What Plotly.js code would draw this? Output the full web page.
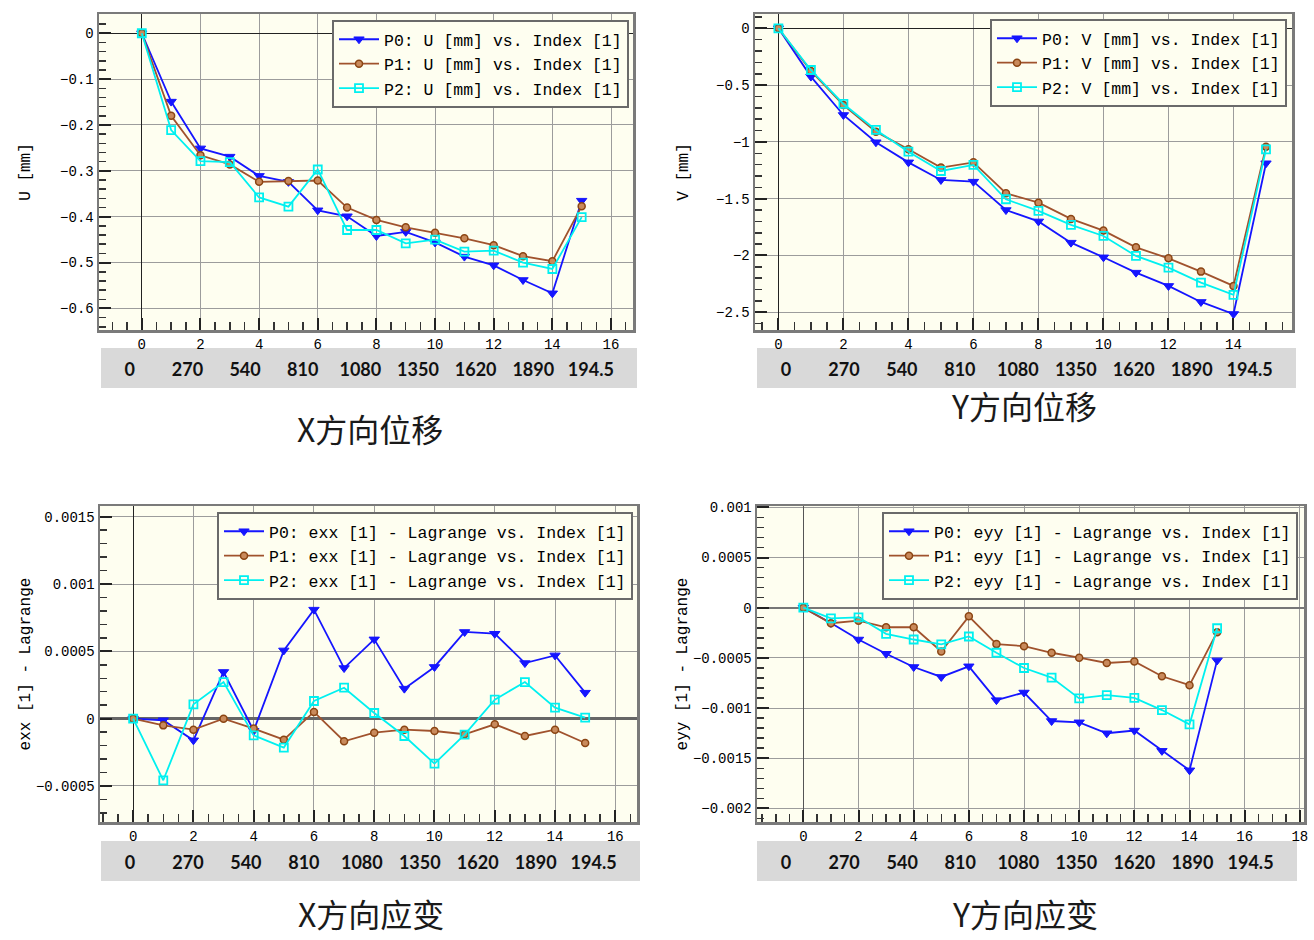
<!DOCTYPE html>
<html>
<head>
<meta charset="utf-8">
<script src="https://cdn.plot.ly/plotly-3.0.1.min.js"></script>
<style>
  html, body { margin: 0; padding: 0; background: #ffffff; }
  #chart { width: 1314px; height: 940px; }
</style>
</head>
<body>
<div id="chart"></div>
<script>
// ---------------- data ----------------
const idx = [0, 1, 2, 3, 4, 5, 6, 7, 8, 9, 10, 11, 12, 13, 14, 15];
const pointNames = ['P0', 'P1', 'P2'];
const quantityLabels = ['U [mm]', 'V [mm]', 'exx [1] - Lagrange', 'eyy [1] - Lagrange'];
const panelTitles = ['X方向位移', 'Y方向位移', 'X方向应变', 'Y方向应变'];
const bandLabels = ['0', '270', '540', '810', '1080', '1350', '1620', '1890', '194.5'];

const u_P0 = [0, -0.149, -0.251, -0.269, -0.311, -0.324, -0.386, -0.399, -0.442, -0.433, -0.456, -0.487, -0.506, -0.538, -0.567, -0.365];
const u_P1 = [0, -0.180, -0.266, -0.286, -0.324, -0.322, -0.321, -0.380, -0.407, -0.423, -0.435, -0.447, -0.462, -0.486, -0.497, -0.377];
const u_P2 = [0, -0.211, -0.279, -0.281, -0.358, -0.378, -0.297, -0.429, -0.429, -0.458, -0.450, -0.476, -0.474, -0.500, -0.514, -0.401];

const v_P0 = [0, -0.425, -0.763, -1.003, -1.180, -1.335, -1.350, -1.600, -1.700, -1.887, -2.016, -2.151, -2.268, -2.409, -2.515, -1.188];
const v_P1 = [0, -0.376, -0.675, -0.910, -1.065, -1.226, -1.180, -1.452, -1.535, -1.678, -1.781, -1.928, -2.025, -2.142, -2.268, -1.042];
const v_P2 = [0, -0.367, -0.666, -0.895, -1.086, -1.256, -1.203, -1.505, -1.608, -1.731, -1.828, -2.004, -2.107, -2.239, -2.347, -1.065];

const exx_P0 = [0, -0.000012, -0.000161, 0.000347, -0.000090, 0.000507, 0.000810, 0.000376, 0.000589, 0.000223, 0.000384, 0.000644, 0.000631, 0.000413, 0.000470, 0.000193];
const exx_P1 = [0, -0.000050, -0.000082, 0.000000, -0.000074, -0.000156, 0.000050, -0.000168, -0.000104, -0.000082, -0.000092, -0.000116, -0.000042, -0.000129, -0.000082, -0.000181];
const exx_P2 = [0, -0.000458, 0.000106, 0.000272, -0.000124, -0.000215, 0.000131, 0.000230, 0.000042, -0.000129, -0.000334, -0.000119, 0.000141, 0.000272, 0.000082, 0.000007];

const eyy_P0 = [0, -0.000152, -0.000317, -0.000459, -0.000591, -0.000690, -0.000584, -0.000921, -0.000845, -0.001129, -0.001142, -0.001251, -0.001224, -0.001426, -0.001620, -0.000525];
const eyy_P1 = [0, -0.000155, -0.000129, -0.000195, -0.000195, -0.000436, -0.000086, -0.000363, -0.000383, -0.000449, -0.000498, -0.000551, -0.000535, -0.000683, -0.000772, -0.000244];
const eyy_P2 = [0, -0.000106, -0.000096, -0.000261, -0.000317, -0.000366, -0.000287, -0.000449, -0.000601, -0.000696, -0.000904, -0.000871, -0.000898, -0.001020, -0.001162, -0.000205];

const seriesByPanel = [
  [u_P0, u_P1, u_P2],
  [v_P0, v_P1, v_P2],
  [exx_P0, exx_P1, exx_P2],
  [eyy_P0, eyy_P1, eyy_P2]
];

// ---------------- styling / layout ----------------
const W = 1314, H = 940;
const px = v => v / W;
const py = v => 1 - v / H;

const MONO = '"Liberation Mono", "DejaVu Sans Mono", monospace';
const lineColors = ['#1515ff', '#a0522d', '#00f0f0'];
const markerStyles = [
  { symbol: 'triangle-down', size: 9, color: '#1515ff', line: { color: '#1515ff', width: 1 } },
  { symbol: 'circle', size: 7, color: '#c98a5c', line: { color: '#8b4513', width: 1.5 } },
  { symbol: 'square-open', size: 8, color: '#00f0f0', line: { color: '#00f0f0', width: 1.8 } }
];

const panels = [
  { l: 99, r: 633, t: 14, b: 330, xr: [-1.46, 16.75], yr: [-0.647, 0.042], ydt: 0.1, ymin: 0.02,
    bandL: 101, bandR: 637, bandT: 348, bandB: 388, titleX: 370, titleY: 428,
    legR: 629, legT: 20, standoff: 26, yzc: '#222', yzw: 1, xzc: '#222' },
  { l: 755, r: 1292, t: 14, b: 330, xr: [-0.72, 15.8], yr: [-2.656, 0.126], ydt: 0.5, ymin: 0.1,
    bandL: 757, bandR: 1296, bandT: 348, bandB: 388, titleX: 1024, titleY: 405,
    legR: 1287, legT: 19, standoff: 24, yzc: '#222', yzw: 1, xzc: '#222' },
  { l: 100, r: 637, t: 506, b: 822, xr: [-1.1, 16.72], yr: [-0.000768, 0.00158], ydt: 0.0005, ymin: 0.0001,
    bandL: 101, bandR: 640, bandT: 841, bandB: 881, titleX: 371, titleY: 913,
    legR: 633, legT: 512, standoff: 2, yzc: '#666', yzw: 3, xzc: '#222' },
  { l: 757, r: 1304, t: 506, b: 822, xr: [-1.68, 18.15], yr: [-0.002135, 0.001013], ydt: 0.0005, ymin: 0.0001,
    bandL: 757, bandR: 1297, bandT: 841, bandB: 881, titleX: 1025, titleY: 913,
    legR: 1298, legT: 512, standoff: 2, yzc: '#777', yzw: 2, xzc: '#555' }
];

const traces = [];
const layout = {
  width: W, height: H,
  margin: { l: 0, r: 0, t: 0, b: 0 },
  paper_bgcolor: '#ffffff',
  plot_bgcolor: 'rgba(0,0,0,0)',
  showlegend: true,
  hovermode: false,
  shapes: [],
  annotations: []
};

panels.forEach((p, i) => {
  const n = i + 1;
  const xa = 'xaxis' + (n === 1 ? '' : n);
  const ya = 'yaxis' + (n === 1 ? '' : n);
  const xid = 'x' + (n === 1 ? '' : n);
  const yid = 'y' + (n === 1 ? '' : n);
  const legId = 'legend' + (n === 1 ? '' : n);

  seriesByPanel[i].forEach((vals, k) => {
    traces.push({
      type: 'scatter', mode: 'lines+markers',
      x: idx, y: vals, xaxis: xid, yaxis: yid,
      name: pointNames[k] + ': ' + quantityLabels[i] + ' vs. Index [1]',
      legend: legId,
      line: { color: lineColors[k], width: 1.8 },
      marker: markerStyles[k],
      cliponaxis: false
    });
  });

  layout[xa] = {
    domain: [px(p.l), px(p.r)], anchor: yid, range: p.xr,
    dtick: 2, tick0: 0,
    showgrid: true, gridcolor: '#9c9c9c', gridwidth: 1,
    zeroline: true, zerolinecolor: p.xzc, zerolinewidth: 1,
    showline: true, mirror: true, linecolor: '#7a7a7a', linewidth: 2.5,
    ticks: 'inside', ticklen: 12, tickwidth: 2, tickcolor: '#222',
    minor: { dtick: 0.5, ticks: 'inside', ticklen: 8, tickwidth: 1.5, tickcolor: '#333', showgrid: false },
    tickfont: { family: MONO, size: 14, color: '#000' },
    fixedrange: true
  };
  layout[ya] = {
    domain: [py(p.b), py(p.t)], anchor: xid, range: p.yr,
    dtick: p.ydt, tick0: 0,
    showgrid: true, gridcolor: '#9c9c9c', gridwidth: 1,
    zeroline: true, zerolinecolor: p.yzc, zerolinewidth: p.yzw,
    showline: true, mirror: true, linecolor: '#7a7a7a', linewidth: 2.5,
    ticks: 'inside', ticklen: 12, tickwidth: 2, tickcolor: '#222',
    minor: { dtick: p.ymin, ticks: 'inside', ticklen: 7, tickwidth: 1.5, tickcolor: '#333', showgrid: false },
    tickfont: { family: MONO, size: 14, color: '#000' },
    title: { text: quantityLabels[i], font: { family: MONO, size: 16, color: '#000' }, standoff: p.standoff },
    fixedrange: true
  };

  // plot background
  layout.shapes.push({
    type: 'rect', xref: xid + ' domain', yref: yid + ' domain',
    x0: 0, x1: 1, y0: 0, y1: 1, layer: 'below',
    fillcolor: '#fefef0', line: { width: 0 }
  });

  // band (secondary label axis)
  const bxId = 'x' + (n + 4), byId = 'y' + (n + 4);
  const axisY = p.bandT + 9;
  layout['xaxis' + (n + 4)] = {
    domain: [px(p.bandL), px(p.bandR)], anchor: byId,
    range: [-0.5, 8.8],
    tickmode: 'array',
    tickvals: bandLabels.map((_, j) => j),
    ticktext: bandLabels,
    showgrid: false, zeroline: false, showline: false, ticks: '',
    tickfont: { family: 'Lato, "Open Sans", sans-serif', size: 18, color: '#111', weight: 700 },
    fixedrange: true
  };
  layout['yaxis' + (n + 4)] = {
    domain: [py(axisY), py(axisY - 2)], anchor: bxId,
    range: [0, 1],
    showgrid: false, zeroline: false, showline: false, showticklabels: false, ticks: '',
    fixedrange: true
  };
  traces.push({
    type: 'scatter', mode: 'markers', x: [], y: [],
    xaxis: bxId, yaxis: byId, showlegend: false, hoverinfo: 'skip'
  });
  layout.shapes.push({
    type: 'rect', xref: 'paper', yref: 'paper',
    x0: px(p.bandL), x1: px(p.bandR), y0: py(p.bandB), y1: py(p.bandT),
    layer: 'below', fillcolor: '#d9d9d9', line: { width: 0 }
  });

  // panel title
  layout.annotations.push({
    xref: 'paper', yref: 'paper', x: px(p.titleX), y: py(p.titleY),
    xanchor: 'center', yanchor: 'middle', showarrow: false,
    text: panelTitles[i],
    font: { family: '"Noto Sans CJK SC", sans-serif', size: 32, color: '#1a1a1a' }
  });

  // legend
  layout[legId] = {
    x: px(p.legR), y: py(p.legT), xanchor: 'right', yanchor: 'top',
    bgcolor: '#fefef0', bordercolor: '#6a6a6a', borderwidth: 2,
    font: { family: MONO, size: 16.5, color: '#000' },
    itemwidth: 40, tracegroupgap: 0
  };
});

Plotly.newPlot('chart', traces, layout, { staticPlot: true, displayModeBar: false });
</script>
</body>
</html>
